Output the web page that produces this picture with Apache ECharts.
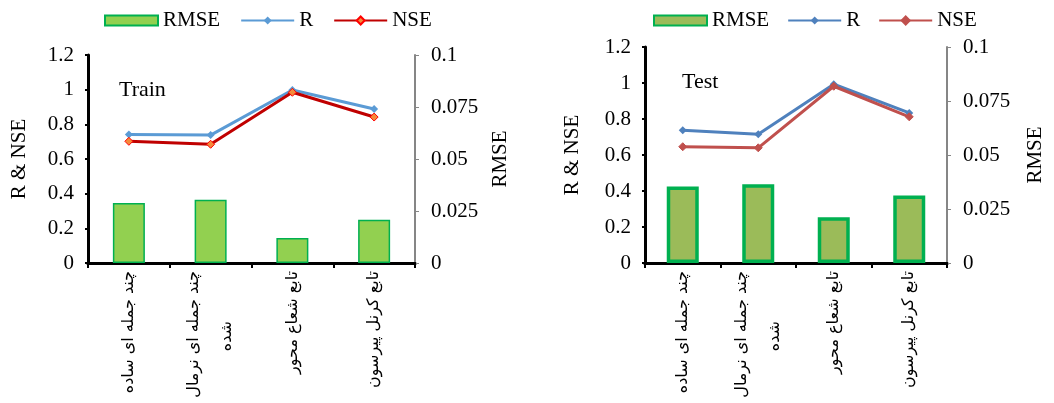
<!DOCTYPE html>
<html>
<head>
<meta charset="utf-8">
<script src="https://cdn.jsdelivr.net/npm/echarts@6/dist/echarts.min.js"></script>
<style>
html,body{margin:0;padding:0;background:#fff;}
#c1{position:absolute;left:0;top:0;width:527px;height:403px;}
#c2{position:absolute;left:527px;top:0;width:527px;height:403px;}
</style>
</head>
<body>
<div id="c1"></div>
<div id="c2"></div>
<script>
const categories = ['چند جمله ای ساده', 'چند جمله ای نرمال\nشده', 'تابع شعاع محور', 'تابع کرنل پیرسون'];
const trainRMSE = [0.0288, 0.0304, 0.0120, 0.0208];
const trainR = [0.742, 0.738, 0.998, 0.888];
const trainNSE = [0.702, 0.685, 0.985, 0.842];
const testRMSE = [0.0354, 0.0365, 0.0212, 0.0312];
const testR = [0.738, 0.715, 0.993, 0.834];
const testNSE = [0.646, 0.640, 0.982, 0.812];
const leftTicks = {min: 0, max: 1.2, interval: 0.2};
const rightTicks = {min: 0, max: 0.1, interval: 0.025};

const SERIF = '"Liberation Serif","Times New Roman",serif';
const ARABIC = '"DejaVu Sans",sans-serif';

function makeOption(cfg) {
  return {
    animation: false,
    textStyle: {fontFamily: SERIF},
    title: {
      text: cfg.title, left: cfg.titleLeft, top: cfg.titleTop,
      textStyle: {fontFamily: SERIF, fontSize: 22, fontWeight: 'normal', color: '#000'}
    },
    legend: {
      left: cfg.legendLeft, top: 10, padding: 0,
      itemWidth: 53, itemHeight: 10, itemGap: cfg.legendGap,
      textStyle: {fontFamily: SERIF, fontSize: 21, color: '#000'},
      data: [
        {name: 'RMSE', icon: 'rect'},
        {name: 'R'},
        {name: 'NSE'}
      ]
    },
    grid: {left: cfg.gridLeft, right: cfg.gridRight, top: cfg.gridTop, bottom: 140},
    xAxis: [{
      type: 'category', data: categories, boundaryGap: true,
      axisLine: {lineStyle: {color: '#000', width: 3}},
      axisTick: {show: true, length: 5, lineStyle: {color: '#000', width: 2}},
      axisLabel: {
        rotate: 90, fontFamily: ARABIC, fontSize: 16, color: '#000', margin: 8, lineHeight: 33,
        formatter: function (v) {
          return v.split('\n').map(function (s, i) { return (i === 0 ? '{a|' : '{b|') + s + '}'; }).join('\n');
        },
        rich: {
          a: {fontFamily: ARABIC, fontSize: 16, color: '#000', lineHeight: 33},
          b: {fontFamily: ARABIC, fontSize: 16, color: '#000', lineHeight: 33, padding: [0, 50, 0, 0]}
        }
      }
    }, {
      type: 'category', data: categories, position: 'top',
      axisLine: {lineStyle: {color: '#000', width: 3}},
      axisTick: {show: false}, axisLabel: {show: false}
    }],
    yAxis: [{
      type: 'value', min: leftTicks.min, max: leftTicks.max, interval: leftTicks.interval,
      name: 'R & NSE', nameLocation: 'middle', nameRotate: 90, nameGap: cfg.leftNameGap,
      nameTextStyle: {fontFamily: SERIF, fontSize: 21, color: '#000'},
      axisLine: {show: true, lineStyle: {color: '#000', width: 3}},
      axisTick: {show: true, length: 3, lineStyle: {color: '#000', width: 2}},
      axisLabel: {fontFamily: SERIF, fontSize: 21, color: '#000', margin: 14},
      splitLine: {show: false}
    }, {
      type: 'value', min: rightTicks.min, max: rightTicks.max, interval: rightTicks.interval,
      position: 'right',
      name: 'RMSE', nameLocation: 'middle', nameRotate: 90, nameGap: cfg.rightNameGap,
      nameTextStyle: {fontFamily: SERIF, fontSize: 21, color: '#000'},
      axisLine: {show: true, lineStyle: {color: '#868686', width: 2}},
      axisTick: {show: true, length: 4, lineStyle: {color: '#868686', width: 1}},
      axisLabel: {fontFamily: SERIF, fontSize: 21, color: '#000', margin: 16},
      splitLine: {show: false}
    }],
    series: [{
      name: 'RMSE', type: 'bar', yAxisIndex: 1, data: cfg.rmse, barWidth: cfg.barWidth,
      itemStyle: {color: cfg.barColor, borderColor: '#00B050', borderWidth: cfg.barBorder}
    }, {
      name: 'R', type: 'line', yAxisIndex: 0, data: cfg.r,
      symbol: 'diamond', symbolSize: 8,
      lineStyle: {color: cfg.rColor, width: 3},
      itemStyle: {color: cfg.rColor}
    }, {
      name: 'NSE', type: 'line', yAxisIndex: 0, data: cfg.nse,
      symbol: 'diamond', symbolSize: 8,
      lineStyle: {color: cfg.nseColor, width: 3},
      itemStyle: {color: cfg.nseMarker, borderColor: cfg.nseMarkerBorder, borderWidth: 1}
    }]
  };
}

const c1 = echarts.init(document.getElementById('c1'));
c1.setOption(makeOption({
  title: 'Train', titleLeft: 114, titleTop: 74,
  legendLeft: 104, legendGap: 20, gridLeft: 88, gridRight: 112, gridTop: 55,
  leftNameGap: 58, rightNameGap: 75,
  rmse: trainRMSE, r: trainR, nse: trainNSE,
  barWidth: 32, barColor: '#92D050', barBorder: 1.5,
  rColor: '#5B9BD5', nseColor: '#C00000', nseMarker: '#F58A3A', nseMarkerBorder: '#FF0000'
}));

const c2 = echarts.init(document.getElementById('c2'));
c2.setOption(makeOption({
  title: 'Test', titleLeft: 150, titleTop: 66,
  legendLeft: 126, legendGap: 18, gridLeft: 118, gridRight: 92, gridTop: 47,
  leftNameGap: 62, rightNameGap: 78,
  rmse: testRMSE, r: testR, nse: testNSE,
  barWidth: 32, barColor: '#9BBB59', barBorder: 3.5,
  rColor: '#4F81BD', nseColor: '#C0504D', nseMarker: '#C0504D', nseMarkerBorder: '#C0504D'
}));
</script>
</body>
</html>
